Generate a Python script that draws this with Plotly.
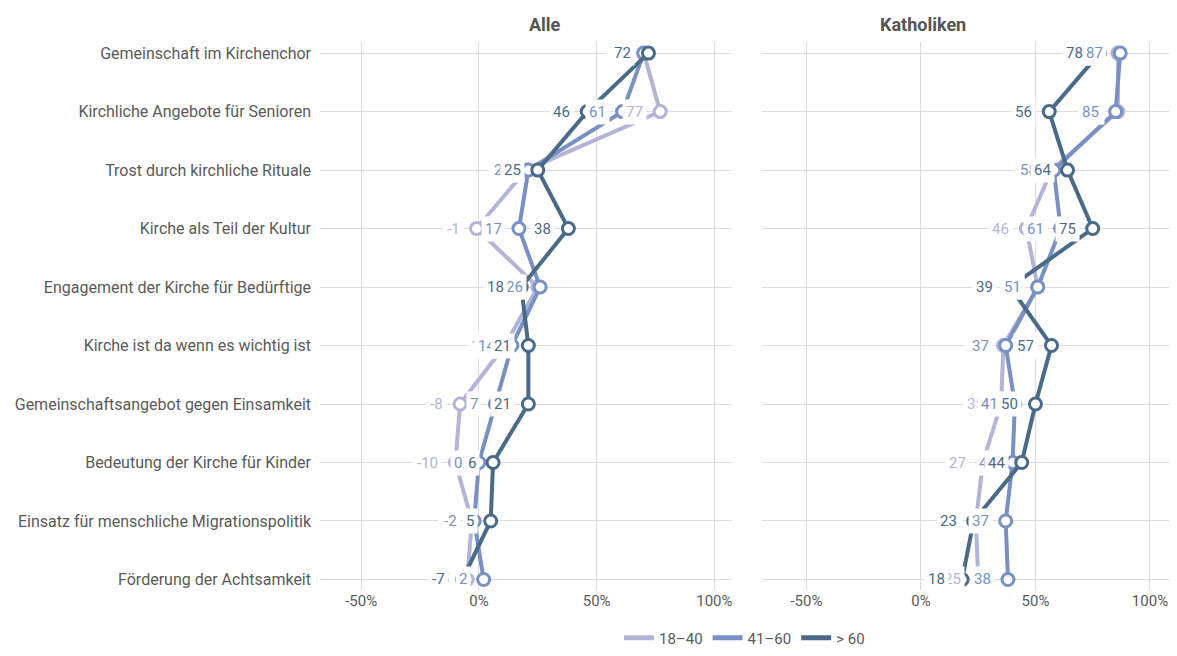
import plotly.graph_objects as go

FONT = "Roboto, Arial, sans-serif"
TEXT = "#5a5a5a"
GRID = "#dcdcdc"
COLORS = {"18–40": "#b3b4d8", "41–60": "#7890c4", "> 60": "#496b89"}

categories = [
    "Gemeinschaft im Kirchenchor",
    "Kirchliche Angebote für Senioren",
    "Trost durch kirchliche Rituale",
    "Kirche als Teil der Kultur",
    "Engagement der Kirche für Bedürftige",
    "Kirche ist da wenn es wichtig ist",
    "Gemeinschaftsangebot gegen Einsamkeit",
    "Bedeutung der Kirche für Kinder",
    "Einsatz für menschliche Migrationspolitik",
    "Förderung der Achtsamkeit",
]
groups = ["18–40", "41–60", "> 60"]

alle_18_40 = [70, 77, 20, -1, 25, 11, -8, -10, -3, -5]
alle_41_60 = [70, 61, 21, 17, 26, 14, 7, 0, -2, 2]
alle_60 = [72, 46, 25, 38, 18, 21, 21, 6, 5, -7]

kath_18_40 = [86, 86, 57, 46, 51, 36, 35, 27, 24, 25]
kath_41_60 = [87, 85, 58, 61, 51, 37, 41, 40, 37, 38]
kath_60 = [78, 56, 64, 75, 39, 57, 50, 44, 23, 18]

panels = [
    ("Alle", "x", "y", [alle_18_40, alle_41_60, alle_60]),
    ("Katholiken", "x2", "y2", [kath_18_40, kath_41_60, kath_60]),
]

fig = go.Figure()
annotations = []

for title, xa, ya, series in panels:
    for grp, vals in zip(groups, series):
        fig.add_trace(go.Scatter(
            x=vals, y=categories, mode="lines+markers", xaxis=xa, yaxis=ya,
            line=dict(color=COLORS[grp], width=4),
            marker=dict(size=12, color="white", line=dict(color=COLORS[grp], width=3)),
            showlegend=False, hoverinfo="skip",
        ))
    # value labels, left of each point, on a white patch
    for grp, vals in zip(groups, series):
        for cat, v in zip(categories, vals):
            annotations.append(dict(
                x=v, y=cat, xref=xa, yref=ya, text=str(v), showarrow=False,
                xanchor="right", yanchor="middle", xshift=-13,
                bgcolor="white", borderpad=3,
                font=dict(family=FONT, size=15, color=COLORS[grp]),
            ))

# legend-only entries
for grp in groups:
    fig.add_trace(go.Scatter(
        x=[None], y=[None], mode="lines", name=grp,
        line=dict(color=COLORS[grp], width=5),
    ))

annotations.append(dict(x=0.2438, y=1.0, xref="paper", yref="paper", yanchor="bottom", yshift=5,
                        text="<b>Alle</b>", showarrow=False,
                        font=dict(family=FONT, size=18, color="#555555")))
annotations.append(dict(x=0.763, y=1.0, xref="paper", yref="paper", yanchor="bottom", yshift=5,
                        text="<b>Katholiken</b>", showarrow=False,
                        font=dict(family=FONT, size=18, color="#555555")))

xaxis_common = dict(
    tickvals=[-50, 0, 50, 100],
    ticktext=["-50%", "0%", "50%", "100%"],
    showgrid=True, gridcolor=GRID, gridwidth=1, zeroline=False,
    showline=False, ticks="", automargin=False, ticklabeloverflow="allow",
    tickfont=dict(family=FONT, size=15, color=TEXT), fixedrange=True,
)
yaxis_common = dict(
    range=[9.18, -0.19], showgrid=True, gridcolor=GRID, gridwidth=1,
    zeroline=False, showline=False, ticks="", automargin=False,
)

# the page body adds an 8px margin; keep the figure inside the window
fig.update_layout(
    width=1161, height=640,
    margin=dict(l=312, r=0, t=34, b=58),
    paper_bgcolor="white", plot_bgcolor="white",
    font=dict(family=FONT, color=TEXT),
    xaxis=dict(domain=[0, 0.4853], anchor="y", range=[-67.5, 107.5], **xaxis_common),
    xaxis2=dict(domain=[0.5206, 1], anchor="y2", range=[-69.4, 108.3], **xaxis_common),
    yaxis=dict(domain=[0, 1], anchor="x", tickfont=dict(family=FONT, size=16, color=TEXT),
               ticklabelstandoff=8, **yaxis_common),
    yaxis2=dict(domain=[0, 1], anchor="x2", showticklabels=False, **yaxis_common),
    legend=dict(orientation="h", x=0.5, xanchor="center", yref="container",
                y=0.0156, yanchor="middle",
                font=dict(family=FONT, size=15, color=TEXT), itemwidth=30),
    annotations=annotations,
)

fig.write_html("out.html")
